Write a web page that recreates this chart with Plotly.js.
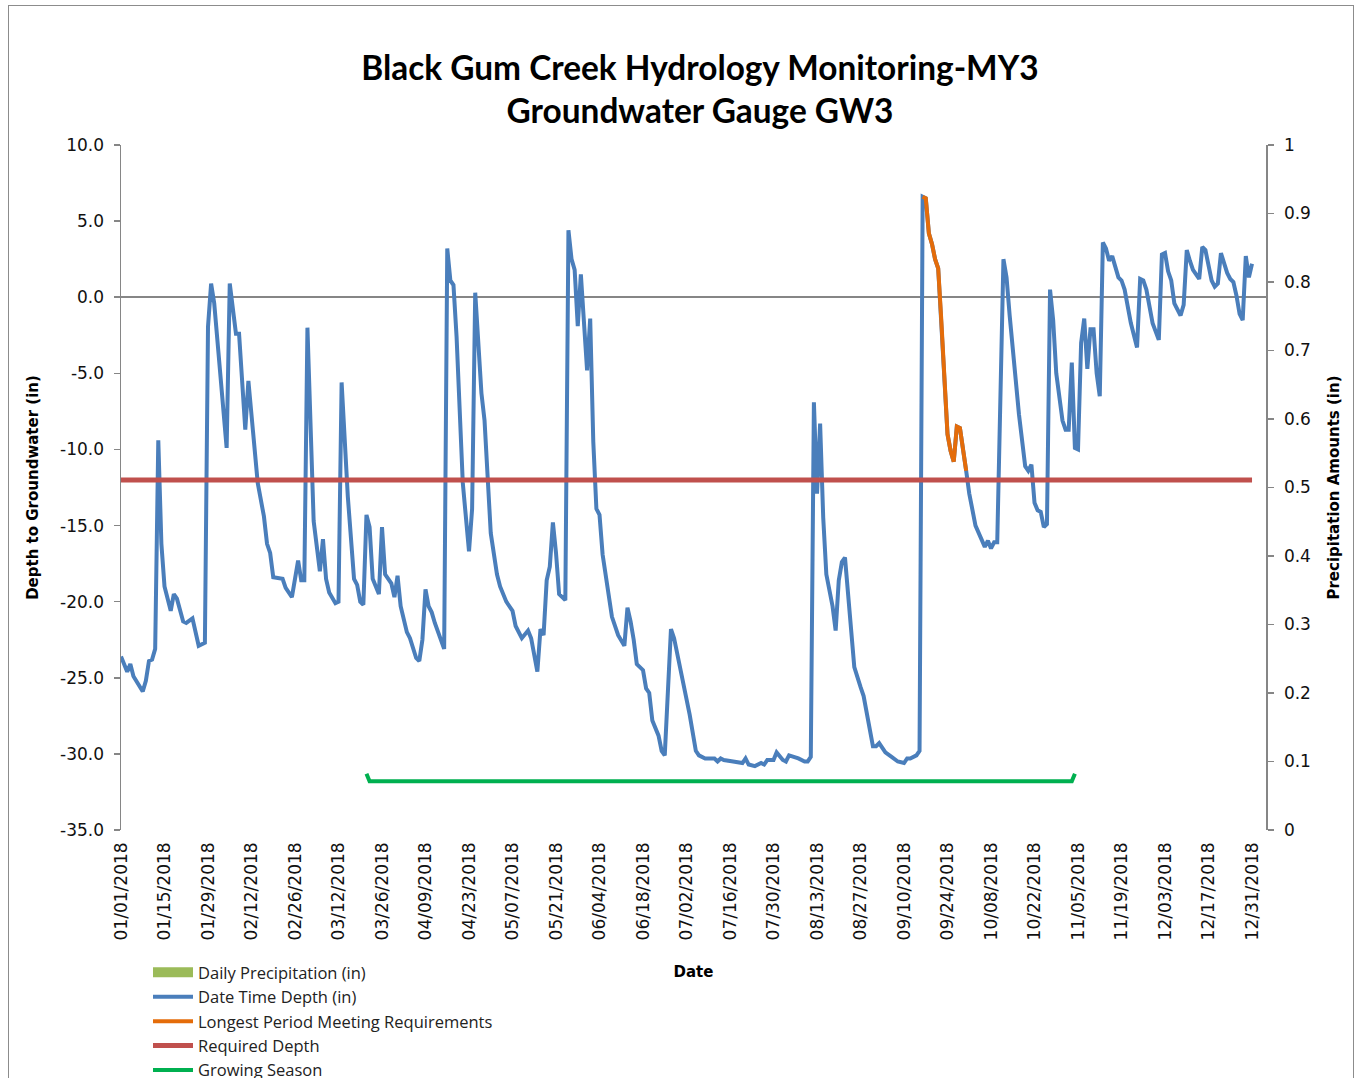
<!DOCTYPE html>
<html>
<head>
<meta charset="utf-8">
<script src="https://cdn.plot.ly/plotly-3.0.1.min.js"></script>
<style>
  html, body { margin: 0; padding: 0; background: #fff; }
  #wrap { position: relative; width: 1360px; height: 1078px; overflow: hidden; }
  #chart { position: absolute; left: 0; top: 0; width: 1360px; height: 1150px; }
  #frame { position: absolute; left: 8px; top: 5px; width: 1346px; height: 1100px;
           border: 1.5px solid #8c8c8c; box-sizing: border-box; pointer-events: none; }
</style>
</head>
<body>
<div id="wrap">
  <div id="chart"></div>
  <div id="frame"></div>
</div>
<script>
// ---- Data (day offsets from 01/01/2018) ----
const depthDay = [0,2,3,4,7,8,9,10,11,12,13,14,16,17,18,20,21,23,25,27,28,29,30,34,35,37,38,40,41,44,46,47,48,49,52,53,55,57,58,59,
  60,62,64,65,66,67,69,70,71,73,75,76,77,78,79,80,81,83,84,85,87,88,89,90,92,93,95,96,97,98,99,100,101,104,105,106,107,108,110,112,113,114,116,117,119,
  121,122,124,126,127,129,131,132,134,135,136,137,138,139,140,141,143,144,145,146,147,148,150,151,152,153,154,155,157,158,160,162,163,164,165,166,168,169,170,171,173,174,175,177,178,180,
  182,183,185,186,188,191,192,193,194,198,200,201,202,204,206,207,208,210,211,213,214,215,217,218,220,221,222,223,224,225,226,227,229,230,231,232,233,235,236,238,239,242,243,
  244,246,248,250,252,253,254,256,257,258,259,260,261,262,263,264,265,266,267,268,269,270,272,273,275,276,277,278,279,280,281,282,284,285,286,288,289,291,292,293,294,295,296,297,298,
  299,300,301,303,304,305,306,307,308,309,310,311,312,313,314,315,316,317,318,319,321,322,323,325,327,328,329,330,332,333,334,335,336,337,338,339,341,342,343,344,345,347,348,349,350,
  351,352,353,354,355,356,357,358,359,360,361,362,363,364];
const depthValue = [-23.6,-24.6,-24.1,-24.9,-25.9,-25.2,-23.9,-23.8,-23.1,-9.4,-16.2,-19.0,-20.6,-19.5,-19.8,-21.3,-21.4,-21.1,-22.9,-22.7,-1.95,0.9,-0.4,-9.9,0.9,-2.4,-2.4,-8.7,-5.5,-12.2,-14.4,-16.2,-16.8,-18.4,-18.5,-19.1,-19.7,-17.3,-18.6,-18.6,
  -2.0,-14.7,-18.0,-15.9,-18.5,-19.4,-20.1,-20.0,-5.6,-13.1,-18.5,-18.9,-20.0,-20.2,-14.3,-15.1,-18.5,-19.5,-15.1,-18.2,-18.8,-19.7,-18.3,-20.3,-22.0,-22.4,-23.7,-23.9,-22.5,-19.2,-20.3,-20.7,-21.4,-23.1,3.2,1.1,0.8,-2.6,-12.2,-16.7,-13.9,0.3,-6.3,-8.1,-15.5,
  -18.2,-19.0,-20.0,-20.6,-21.6,-22.4,-21.9,-22.4,-24.6,-21.8,-22.2,-18.6,-17.7,-14.8,-16.8,-19.5,-19.9,4.4,2.5,1.8,-1.9,1.5,-4.8,-1.4,-9.5,-13.9,-14.3,-16.9,-19.8,-21.0,-22.2,-22.9,-20.4,-21.3,-22.5,-24.1,-24.5,-25.7,-26.0,-27.8,-28.8,-29.8,-30.1,-21.8,-22.4,-24.3,
  -26.3,-27.4,-29.8,-30.1,-30.3,-30.3,-30.5,-30.3,-30.4,-30.5,-30.6,-30.3,-30.7,-30.8,-30.6,-30.7,-30.4,-30.4,-29.9,-30.4,-30.5,-30.1,-30.2,-30.3,-30.5,-30.5,-30.2,-6.9,-12.9,-8.3,-14.5,-18.2,-20.3,-21.9,-18.6,-17.4,-17.1,-22.3,-24.3,-25.6,-26.2,-29.5,-29.5,
  -29.3,-29.9,-30.2,-30.5,-30.6,-30.3,-30.3,-30.1,-29.8,6.6,6.5,4.2,3.5,2.5,1.9,-1.5,-5.2,-9.0,-10.1,-10.8,-8.5,-8.6,-11.4,-12.9,-15.0,-15.5,-16.0,-16.4,-16.0,-16.5,-16.1,-16.1,2.5,1.3,-1.2,-5.5,-7.7,-11.1,-11.4,-11.0,-13.5,-14.0,-14.1,-15.1,-14.9,
  0.5,-1.5,-5.0,-8.1,-8.7,-8.7,-4.3,-9.9,-10.0,-3.0,-1.4,-4.7,-2.1,-2.1,-5.0,-6.5,3.6,3.2,2.4,2.7,1.3,1.1,0.5,-1.7,-3.3,1.2,1.1,0.5,-1.7,-2.3,-2.8,2.8,2.9,1.7,1.1,-0.4,-1.2,-0.5,3.1,2.4,1.8,1.2,3.3,3.1,2.0,
  1.1,0.7,0.9,2.9,2.2,1.6,1.2,1.0,0.1,-1.1,-1.5,2.7,1.3,2.2];

const longestStartDay = 258;
const longestEndDay = 272;

const requiredDay = [0, 364];
const requiredValue = [-12, -12];

const growingDay = [79, 80, 306, 307];
const growingValue = [-31.3, -31.8, -31.8, -31.3];

const precipDate = [];
const precipValue = [];

const leftTickVals = [10, 5, 0, -5, -10, -15, -20, -25, -30, -35];
const leftTickText = ["10.0", "5.0", "0.0", "-5.0", "-10.0", "-15.0", "-20.0", "-25.0", "-30.0", "-35.0"];

// ---- helpers ----
function dayToDate(d) {
  const t = new Date(Date.UTC(2018, 0, 1));
  t.setUTCDate(t.getUTCDate() + d);
  return t.toISOString().slice(0, 10);
}
const depthDate = depthDay.map(dayToDate);
const longestIdx = depthDay.map((d, i) => (d >= longestStartDay && d <= longestEndDay) ? i : -1).filter(i => i >= 0);
const longestDate = longestIdx.map(i => depthDate[i]);
const longestValue = longestIdx.map(i => depthValue[i]);

const tickFont = { family: "DejaVu Sans", size: 17, color: "#111" };
const axisTitleFont = { family: "DejaVu Sans", size: 15, color: "#000" };

const traces = [
  { type: "scatter", mode: "lines", name: "Daily Precipitation (in)",
    x: precipDate.length ? precipDate : [null], y: precipValue.length ? precipValue : [null],
    yaxis: "y2", line: { color: "#9BBB59", width: 10 }, showlegend: true, hoverinfo: "skip" },
  { type: "scatter", mode: "lines", name: "Date Time Depth (in)", x: depthDate, y: depthValue,
    line: { color: "#4A7EBB", width: 4 } },
  { type: "scatter", mode: "lines", name: "Longest Period Meeting Requirements", x: longestDate, y: longestValue,
    line: { color: "#E46C0A", width: 4 } },
  { type: "scatter", mode: "lines", name: "Required Depth", x: requiredDay.map(dayToDate), y: requiredValue,
    line: { color: "#C0504D", width: 5 } },
  { type: "scatter", mode: "lines", name: "Growing Season", x: growingDay.map(dayToDate), y: growingValue,
    line: { color: "#00B050", width: 4 } }
];

const layout = {
  width: 1360, height: 1150,
  paper_bgcolor: "#fff", plot_bgcolor: "#fff",
  margin: { l: 121, r: 94, t: 145, b: 320 },
  showlegend: true,
  title: {
    text: "<b>Black Gum Creek Hydrology Monitoring-MY3<br>Groundwater Gauge GW3</b>",
    font: { family: "Lato", size: 33.4, color: "#000" },
    x: 700 / 1360, xanchor: "center", xref: "container",
    y: 1 - 80 / 1150, yanchor: "top", yref: "container"
  },
  xaxis: {
    type: "date",
    range: ["2018-01-01", "2019-01-04 12:00"],
    tick0: "2018-01-01", dtick: 14 * 86400000,
    tickformat: "%m/%d/%Y", tickangle: -90,
    tickfont: tickFont, ticklabelstandoff: 8,
    showgrid: false, showline: false, zeroline: false,
    ticks: "", automargin: false,
    title: { text: "<b>Date</b>", font: axisTitleFont, standoff: 27 }
  },
  yaxis: {
    range: [-35, 10],
    tickmode: "array", tickvals: leftTickVals, ticktext: leftTickText,
    tickfont: tickFont, ticklabelstandoff: 6,
    showgrid: false, showline: true, linecolor: "#868686", linewidth: 1.5,
    ticks: "outside", ticklen: 6, tickcolor: "#868686", tickwidth: 1.5,
    zeroline: true, zerolinecolor: "#868686", zerolinewidth: 1.5,
    automargin: false,
    title: { text: "<b>Depth to Groundwater (in)</b>", font: axisTitleFont, standoff: 18 }
  },
  yaxis2: {
    overlaying: "y", side: "right",
    range: [0, 1], dtick: 0.1, tick0: 0,
    tickfont: tickFont, ticklabelstandoff: 7,
    showgrid: false, showline: true, linecolor: "#868686", linewidth: 1.5,
    ticks: "outside", ticklen: 6, tickcolor: "#868686", tickwidth: 1.5,
    zeroline: false, automargin: false,
    title: { text: "<b>Precipitation Amounts (in)</b>", font: axisTitleFont, standoff: 18 }
  },
  legend: {
    x: 27 / 1145, xanchor: "left",
    y: -(955 - 830) / 685, yanchor: "top",
    font: { family: "Open Sans", size: 16.5, color: "#222" },
    itemwidth: 40, tracegroupgap: 0,
    bgcolor: "rgba(0,0,0,0)"
  }
};

Plotly.newPlot("chart", traces, layout, { displayModeBar: false, staticPlot: true });
</script>
</body>
</html>
